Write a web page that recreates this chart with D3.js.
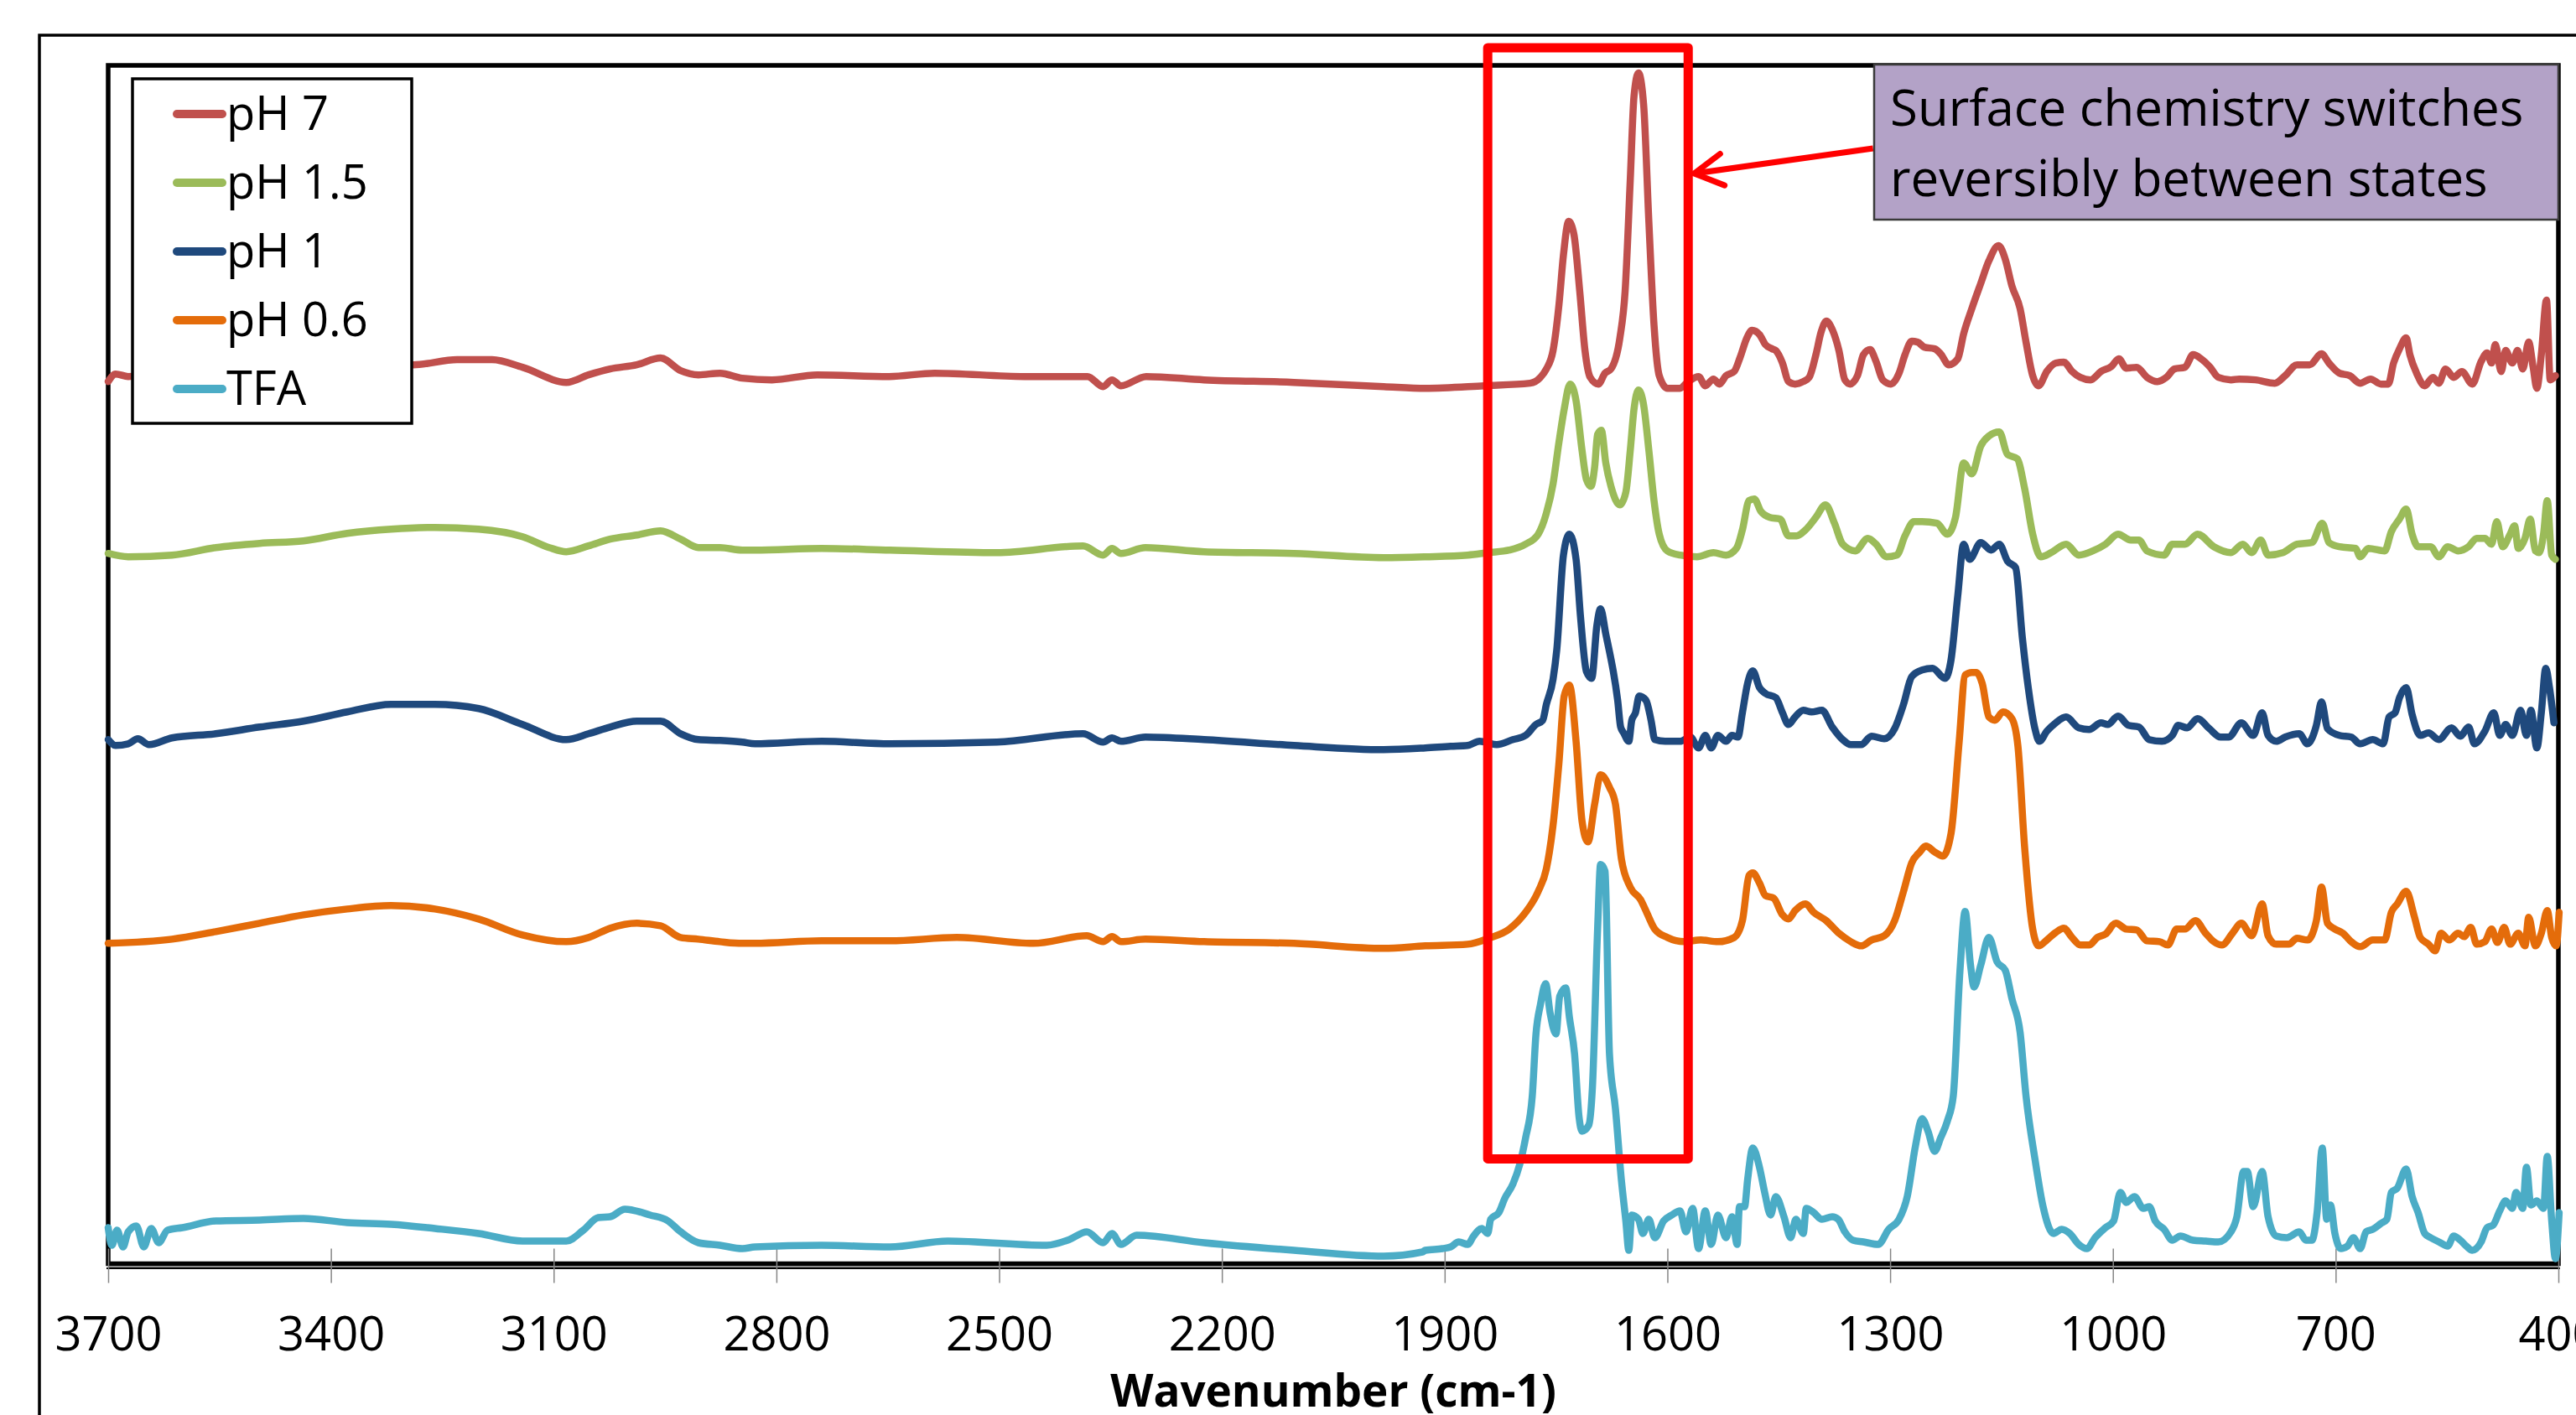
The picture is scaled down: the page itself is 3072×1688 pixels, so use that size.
<!DOCTYPE html>
<html>
<head>
<meta charset="utf-8">
<script src="https://cdn.jsdelivr.net/npm/d3@7"></script>
<style>
  body { margin: 0; background: #fff; }
  text { font-family: "Open Sans", "Noto Sans", sans-serif; }
</style>
</head>
<body>
<script>
// series labels + colours (legend order)
const seriesNames = ["pH 7", "pH 1.5", "pH 1", "pH 0.6", "TFA"]
const seriesColors = ["#c0504d", "#9bbb59", "#1f497d", "#e46c0a", "#4bacc6"]

const xTicks = [3700, 3400, 3100, 2800, 2500, 2200, 1900, 1600, 1300, 1000, 700, 400]

// [wavenumber, intensity (a.u., stacked)]
const ph7 = [[3700,1052],[3690,1061],[3673,1058],[3620,1063],[3560,1066],[3500,1068],[3440,1070],[3380,1071],[3330,1072],[3289,1072],[3230,1078],[3183,1078],[3142,1069],[3083,1051],[3053,1060],[3024,1067],[2988,1072],[2956,1080],[2929,1065],[2905,1060],[2876,1062],[2846,1056],[2806,1054],[2745,1060],[2648,1058],[2587,1062],[2466,1058],[2381,1058],[2360,1046],[2348,1054],[2336,1047],[2302,1058],[2224,1054],[2103,1051],[1982,1046],[1926,1044],
  [1847,1047],[1785,1050],[1771,1057],[1763,1067],[1754,1089],[1746,1144],[1740,1203],[1733,1243],[1726,1228],[1718,1159],[1711,1089],[1704,1057],[1693,1049],[1684,1062],[1676,1067],[1664,1104],[1657,1159],[1650,1293],[1645,1392],[1639,1420],[1632,1382],[1625,1243],[1618,1119],[1611,1059],[1600,1044],[1583,1044],[1572,1052],[1558,1058],[1549,1047],[1538,1055],[1530,1049],[1521,1059],[1510,1064],[1502,1081],[1493,1104],[1486,1113],[1476,1108],[1468,1096],[1459,1091],[1454,1089],[1445,1074],[1437,1052],[1428,1049],[1417,1052],[1409,1057],[1400,1084],[1393,1111],[1386,1124],[1378,1114],[1369,1089],[1361,1054],[1354,1049],[1344,1059],[1336,1084],[1327,1090],[1319,1076],[1310,1054],[1299,1049],[1288,1062],[1280,1084],[1271,1100],[1263,1099],[1254,1093],
  [1240,1091],[1232,1085],[1221,1072],[1209,1079],[1201,1109],[1190,1139],[1178,1169],[1167,1196],[1154,1214],[1145,1198],[1136,1166],[1125,1139],[1117,1099],[1108,1059],[1100,1047],[1089,1064],[1077,1074],[1066,1075],[1055,1064],[1044,1057],[1030,1054],[1016,1064],[1002,1070],[992,1079],[982,1068],[968,1069],[954,1057],[940,1052],[928,1057],[917,1067],[903,1069],[892,1084],[881,1079],[869,1069],[858,1057],[841,1054],[830,1055],[808,1054],[782,1050],[768,1059],[752,1072],[735,1072],[719,1085],[709,1074],[695,1062],[681,1059],[667,1050],[653,1055],[639,1049],[629,1049],[622,1074],[614,1091],[605,1104],[600,1084],[591,1062],[580,1047],[569,1057],[561,1050],[552,1067],[541,1057],[530,1064],[516,1049],[504,1076],[496,1086],[490,1074],[485,1096],[477,1064],[471,1089],[462,1074],[455,1089],[448,1067],[440,1099],[434,1069],[429,1044],[423,1084],[416,1149],[411,1054],[404,1059]]

const ph15 = [[3700,847],[3673,843],[3614,845],[3555,854],[3496,859],[3437,862],[3378,871],[3319,876],[3260,878],[3201,876],[3142,867],[3106,854],[3083,849],[3053,856],[3024,864],[2988,869],[2956,874],[2929,864],[2905,854],[2876,854],[2846,851],[2829,851],[2739,853],[2647,851],[2503,848],[2387,856],[2360,845],[2348,853],[2336,847],[2303,854],[2224,849],[2103,847],[1982,842],[1926,843],
  [1869,845],[1841,848],[1813,851],[1791,858],[1774,870],[1763,895],[1754,930],[1746,980],[1739,1019],[1731,1049],[1723,1029],[1715,970],[1709,935],[1703,927],[1698,950],[1694,989],[1689,994],[1683,955],[1676,927],[1664,905],[1656,920],[1650,970],[1645,1019],[1639,1042],[1632,1024],[1625,970],[1618,910],[1611,870],[1600,850],[1583,845],[1560,843],[1538,848],[1521,845],[1507,853],[1499,875],[1490,910],[1483,912],[1474,897],[1462,890],[1448,888],[1437,868],[1426,868],[1414,875],[1400,890],[1387,905],[1375,883],[1364,858],[1347,850],[1330,865],[1319,858],[1305,843],[1291,845],[1280,868],[1268,885],
  [1257,885],[1237,883],[1223,870],[1212,890],[1201,955],[1190,942],[1178,975],[1167,987],[1153,992],[1142,965],[1129,960],[1119,925],[1108,870],[1097,843],[1083,848],[1063,858],[1046,845],[1027,850],[1010,858],[993,870],[976,863],[965,863],[954,850],[931,845],[920,858],[903,858],[886,870],[864,855],[841,848],[825,858],[813,848],[801,863],[791,845],[771,848],[752,858],[732,860],[718,883],[709,860],[695,855],[673,853],[667,843],[656,853],[634,850],[625,873],[614,888],[605,900],[597,870],[589,855],[572,855],[561,843],[549,855],[535,850],[521,855],[510,865],[499,865],[490,858],[483,885],[475,855],[465,870],[459,880],[454,853],[445,865],[438,888],[431,850],[426,848],[420,870],[415,910],[409,845],[404,840]]

const ph1 = [[3700,625],[3690,618],[3673,620],[3660,626],[3645,619],[3614,627],[3555,632],[3496,640],[3437,647],[3378,658],[3319,667],[3260,667],[3201,662],[3142,643],[3083,625],[3053,632],[3024,640],[2988,647],[2956,647],[2929,632],[2905,625],[2876,624],[2846,622],[2829,620],[2739,623],[2647,620],[2503,622],[2387,632],[2360,622],[2348,627],[2336,623],[2303,628],[2224,625],[2103,618],[1982,613],[1926,615],
  [1892,617],[1869,618],[1853,623],[1830,619],[1808,625],[1791,630],[1777,643],[1768,648],[1763,667],[1754,697],[1749,732],[1740,845],[1732,870],[1723,840],[1717,771],[1709,706],[1702,698],[1695,761],[1690,781],[1683,751],[1676,721],[1673,707],[1667,672],[1663,640],[1659,633],[1652,623],[1648,648],[1643,657],[1638,677],[1629,672],[1622,648],[1617,625],[1603,623],[1583,623],[1569,628],[1558,615],[1549,630],[1541,615],[1532,630],[1521,623],[1513,630],[1505,628],[1499,657],[1492,692],[1485,707],[1476,687],[1468,680],[1454,675],[1445,657],[1437,643],[1428,652],[1417,660],[1406,658],[1392,660],[1378,640],[1364,625],[1353,619],[1339,619],[1325,629],[1308,626],[1294,638],[1282,667],[1271,700],[1257,708],[1243,710],[1226,698],[1218,720],[1209,796],[1201,858],[1193,840],[1178,860],[1164,851],[1153,858],[1142,838],[1131,830],[1122,747],[1114,687],[1105,638],[1099,623],[1089,635],[1077,645],[1063,652],[1046,639],[1032,637],[1016,645],[1007,643],[993,653],[979,642],[965,640],[951,625],[934,623],[920,630],[912,642],[900,639],[886,650],[870,638],[855,628],[844,628],[827,645],[811,630],[799,657],[791,630],[780,623],[768,628],[749,632],[738,620],[726,642],[719,670],[711,638],[695,630],[679,628],[667,620],[650,625],[636,620],[628,652],[620,657],[614,675],[605,687],[597,655],[586,630],[575,633],[561,625],[544,639],[532,629],[521,640],[513,620],[499,635],[487,657],[479,630],[471,643],[462,630],[451,660],[443,630],[437,660],[429,615],[423,657],[417,710],[412,687],[406,645]]

const ph06 = [[3700,382],[3614,387],[3555,396],[3496,406],[3437,416],[3378,423],[3319,427],[3260,423],[3201,411],[3142,392],[3083,384],[3053,389],[3024,400],[2988,406],[2956,403],[2929,389],[2905,387],[2876,384],[2846,382],[2829,382],[2739,385],[2647,385],[2557,389],[2454,382],[2382,391],[2360,384],[2348,390],[2336,384],[2303,387],[2224,384],[2103,382],[1982,376],[1926,379],
  [1869,381],[1841,388],[1813,399],[1791,419],[1774,444],[1763,471],[1754,523],[1746,598],[1739,677],[1732,690],[1723,623],[1715,528],[1707,503],[1698,548],[1690,583],[1678,568],[1670,548],[1662,483],[1650,449],[1636,434],[1628,419],[1617,399],[1600,389],[1577,384],[1555,386],[1532,384],[1510,389],[1499,409],[1490,463],[1485,466],[1476,454],[1468,439],[1457,436],[1445,416],[1437,411],[1428,421],[1414,429],[1403,419],[1386,409],[1369,394],[1353,384],[1339,379],[1325,386],[1308,391],[1294,409],[1282,444],[1271,478],[1260,491],[1252,498],[1240,491],[1229,486],[1218,513],[1207,623],[1199,702],[1190,705],[1184,705],[1176,692],[1167,652],[1159,648],[1148,658],[1136,650],[1128,618],[1119,498],[1108,399],[1100,379],[1089,386],[1077,395],[1066,400],[1055,389],[1044,380],[1032,380],[1021,389],[1010,393],[996,406],[982,399],[968,398],[954,385],[937,384],[926,380],[914,399],[903,399],[889,409],[875,394],[864,384],[853,380],[839,394],[827,406],[813,391],[799,429],[791,391],[780,381],[763,381],[752,388],[738,386],[726,409],[719,449],[711,406],[701,399],[690,394],[679,384],[667,378],[650,386],[634,386],[625,419],[617,429],[605,444],[594,414],[586,389],[575,381],[566,373],[558,394],[547,386],[535,394],[527,390],[518,401],[510,381],[499,384],[490,399],[482,383],[473,401],[465,381],[454,394],[445,379],[440,413],[431,379],[423,394],[415,421],[409,389],[403,379],[399,419]]

const tfa = [[3700,43],[3695,22],[3688,40],[3680,20],[3673,38],[3662,45],[3652,20],[3642,42],[3632,25],[3620,40],[3600,43],[3555,51],[3496,52],[3437,54],[3378,49],[3319,47],[3260,42],[3201,36],[3142,27],[3083,27],[3060,40],[3040,55],[3024,56],[3004,65],[2970,58],[2946,51],[2929,38],[2905,25],[2876,22],[2846,18],[2829,20],[2739,22],[2647,20],[2569,27],[2436,22],[2405,29],[2382,38],[2360,25],[2348,36],[2336,23],[2315,34],[2224,25],[2103,16],[1982,9],[1930,14],
  [1926,16],[1903,18],[1892,20],[1881,26],[1869,23],[1861,33],[1850,42],[1842,36],[1838,53],[1827,61],[1819,78],[1808,95],[1799,118],[1791,150],[1782,200],[1777,274],[1771,309],[1764,334],[1758,299],[1750,274],[1745,319],[1737,329],[1732,294],[1725,250],[1719,175],[1715,158],[1706,165],[1701,210],[1694,399],[1690,476],[1684,468],[1678,250],[1670,185],[1662,100],[1656,51],[1652,16],[1648,58],[1639,53],[1633,36],[1625,53],[1617,31],[1605,51],[1594,58],[1583,63],[1575,38],[1566,66],[1558,18],[1549,63],[1541,23],[1532,58],[1521,31],[1513,56],[1506,23],[1503,68],[1496,68],[1492,100],[1485,138],[1476,115],[1469,85],[1461,58],[1454,80],[1443,56],[1434,31],[1427,53],[1417,36],[1413,66],[1403,61],[1392,53],[1378,56],[1370,53],[1361,38],[1350,28],[1336,26],[1316,23],[1302,41],[1288,53],[1277,80],[1266,140],[1257,173],[1249,158],[1240,134],[1232,150],[1223,170],[1215,200],[1206,349],[1199,420],[1192,358],[1187,330],[1178,356],[1167,389],[1156,360],[1145,350],[1136,316],[1125,276],[1117,200],[1105,125],[1094,68],[1080,36],[1069,41],[1058,36],[1046,23],[1035,18],[1024,31],[1010,43],[999,51],[990,85],[982,73],[971,80],[959,66],[951,68],[943,51],[931,41],[920,28],[909,33],[892,28],[875,27],[858,26],[841,38],[833,56],[824,110],[819,110],[811,68],[799,110],[791,56],[780,33],[766,31],[749,38],[740,28],[732,28],[725,61],[718,138],[712,53],[707,70],[701,36],[693,18],[684,21],[676,31],[667,18],[659,38],[650,41],[639,48],[631,53],[625,85],[617,90],[605,113],[597,80],[589,61],[580,36],[572,31],[561,26],[549,21],[541,33],[532,28],[524,21],[516,16],[504,26],[496,43],[488,46],[479,63],[471,75],[462,66],[457,85],[448,66],[443,115],[437,70],[429,75],[420,66],[415,128],[409,51],[404,6],[399,61]]

// highlight box (wavenumber range, intensity range) and arrow (tail -> head)
const boxWn = [1842, 1572]
const boxVal = [125, 1450]
const arrowTail = [1323, 1330]
const arrowHead = [1564, 1300]

const annotationLines = ["Surface chemistry switches", "reversibly between states"]

const W = 3072
const H = 1688
const plot = { left: 129, right: 3051, top: 78, bottom: 1507.5 }

const x = d3.scaleLinear([3700, 400], [plot.left, plot.right])
const y = d3.scaleLinear([0, 1428], [plot.bottom, plot.top + 1])

const svg = d3.select("body").append("svg").attr("width", W).attr("height", H)

svg.append("rect").attr("width", W).attr("height", H).attr("fill", "#fff")

// chart area border (runs off the picture on the right / bottom)
svg.append("rect")
  .attr("x", 47).attr("y", 42)
  .attr("width", 3200).attr("height", 1800)
  .attr("fill", "none").attr("stroke", "#000").attr("stroke-width", 3.5)

// plot area border
svg.append("rect")
  .attr("x", plot.left).attr("y", plot.top)
  .attr("width", plot.right - plot.left).attr("height", plot.bottom - plot.top)
  .attr("fill", "none").attr("stroke", "#000").attr("stroke-width", 5.5)
svg.append("line")
  .attr("x1", plot.left).attr("x2", plot.right)
  .attr("y1", 1511).attr("y2", 1511)
  .attr("stroke", "#8c8c8c").attr("stroke-width", 2)
svg.append("line")
  .attr("x1", plot.left - 2).attr("x2", plot.right + 2)
  .attr("y1", 1513).attr("y2", 1513)
  .attr("stroke", "#000").attr("stroke-width", 2)

// x axis
const axis = svg.append("g")
  .attr("transform", `translate(0,${plot.bottom})`)
  .call(d3.axisBottom(x).tickValues(xTicks).tickSize(23).tickFormat(d3.format("d")))
axis.select(".domain").remove()
axis.selectAll(".tick line").attr("y1", -18).attr("stroke", "#868686").attr("stroke-width", 1.5)
axis.selectAll(".tick text")
  .attr("y", 103).attr("dy", 0)
  .attr("fill", "#000")
  .style("font-size", "56px")
  .style("font-family", '"Open Sans", sans-serif')

svg.append("text")
  .attr("x", (plot.left + plot.right) / 2)
  .attr("y", 1678)
  .attr("text-anchor", "middle")
  .style("font-size", "53px")
  .style("font-weight", "bold")
  .text("Wavenumber (cm-1)")

// spectra
const allSeries = [ph7, ph15, ph1, ph06, tfa]
const line = d3.line()
  .x((d) => x(d[0]))
  .y((d) => y(d[1]))
  .curve(d3.curveMonotoneX)

svg.append("g")
  .selectAll("path.series")
  .data(allSeries)
  .join("path")
  .classed("series", true)
  .attr("d", (d) => line(d))
  .attr("fill", "none")
  .attr("stroke", (d, i) => seriesColors[i])
  .attr("stroke-width", 8.5)
  .attr("stroke-linejoin", "round")
  .attr("stroke-linecap", "round")

// legend
const legend = svg.append("g")
legend.append("rect")
  .attr("x", 158).attr("y", 94)
  .attr("width", 333).attr("height", 411)
  .attr("fill", "#fff").attr("stroke", "#000").attr("stroke-width", 3.5)

const rows = legend.selectAll("g.row")
  .data(seriesNames)
  .join("g")
  .classed("row", true)
  .attr("transform", (d, i) => `translate(0,${136 + i * 82})`)
rows.append("line")
  .attr("x1", 211).attr("x2", 265)
  .attr("stroke", (d, i) => seriesColors[i])
  .attr("stroke-width", 10)
  .attr("stroke-linecap", "round")
rows.append("text")
  .attr("x", 270).attr("y", 19)
  .style("font-size", "56px")
  .text((d) => d)

// highlight box
svg.append("rect")
  .attr("x", x(boxWn[0])).attr("y", y(boxVal[1]))
  .attr("width", x(boxWn[1]) - x(boxWn[0]))
  .attr("height", y(boxVal[0]) - y(boxVal[1]))
  .attr("fill", "none").attr("stroke", "#ff0000")
  .attr("stroke-width", 11).attr("stroke-linejoin", "round")

// arrow
svg.append("defs").append("marker")
  .attr("id", "head")
  .attr("markerUnits", "userSpaceOnUse")
  .attr("markerWidth", 80).attr("markerHeight", 80)
  .attr("refX", 0).attr("refY", 0)
  .attr("viewBox", "-50 -40 80 80")
  .attr("orient", "auto")
  .append("path")
  .attr("d", "M-34,-19 L0,0 L-34,19")
  .attr("fill", "none").attr("stroke", "#ff0000")
  .attr("stroke-width", 7).attr("stroke-linecap", "round").attr("stroke-linejoin", "round")

svg.append("line")
  .attr("x1", x(arrowTail[0])).attr("y1", y(arrowTail[1]))
  .attr("x2", x(arrowHead[0])).attr("y2", y(arrowHead[1]))
  .attr("stroke", "#ff0000").attr("stroke-width", 7)
  .attr("marker-end", "url(#head)")

// annotation
const note = svg.append("g")
note.append("rect")
  .attr("x", 2235).attr("y", 77)
  .attr("width", plot.right - 2235).attr("height", 185)
  .attr("fill", "#b3a2c7").attr("stroke", "#3a3a3a").attr("stroke-width", 2.5)
note.selectAll("text")
  .data(annotationLines)
  .join("text")
  .attr("x", 2254)
  .attr("y", (d, i) => 150 + i * 84)
  .style("font-size", "60px")
  .text((d) => d)
</script>
</body>
</html>
